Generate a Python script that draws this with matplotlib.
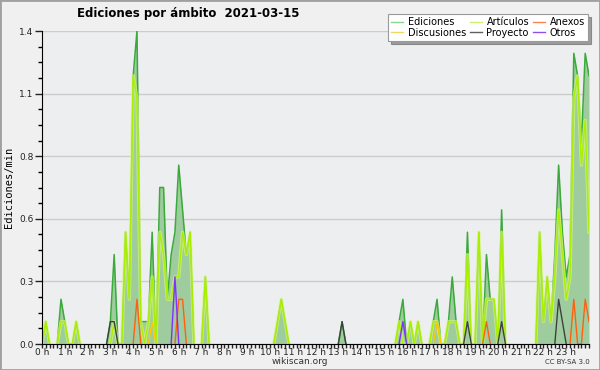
import matplotlib
matplotlib.use("Agg")
import matplotlib.pyplot as plt
from matplotlib.lines import Line2D
from matplotlib.patches import Rectangle
import numpy as np

# data: edits/min in 10-minute bins, 0 h .. 24 h (145 points) <<<
ediciones = [
    0, .1, 0, 0, 0, .2, .1, 0, 0, .1, 0, 0,
    0, 0, 0, 0, 0, 0, .1, .4, 0, 0, .5, .2,
    1.2, 1.4, .1, .1, .1, .5, 0, .7, .7, .2, .4, .5,
    .8, .6, .4, .5, 0, 0, 0, .3, 0, 0, 0, 0,
    0, 0, 0, 0, 0, 0, 0, 0, 0, 0, 0, 0,
    0, 0, .1, .2, .1, 0, 0, 0, 0, 0, 0, 0,
    0, 0, 0, 0, 0, 0, 0, .1, 0, 0, 0, 0,
    0, 0, 0, 0, 0, 0, 0, 0, 0, 0, .1, .2,
    0, .1, 0, .1, 0, 0, 0, .1, .2, 0, 0, .1,
    .3, .1, 0, 0, .5, 0, 0, .5, 0, .4, .2, .2,
    0, .6, 0, 0, 0, 0, 0, 0, 0, 0, 0, .5,
    .1, .3, .1, .4, .8, .5, .3, .4, 1.3, 1.2, .9, 1.3,
    1.2,
]
articulos = [
    0, .1, 0, 0, 0, .1, .1, 0, 0, .1, 0, 0,
    0, 0, 0, 0, 0, 0, 0, .1, 0, 0, .5, .2,
    1.2, 1.1, .1, 0, .1, .3, 0, .5, .4, .2, .2, .3,
    .3, .5, .4, .5, 0, 0, 0, .3, 0, 0, 0, 0,
    0, 0, 0, 0, 0, 0, 0, 0, 0, 0, 0, 0,
    0, 0, .1, .2, .1, 0, 0, 0, 0, 0, 0, 0,
    0, 0, 0, 0, 0, 0, 0, 0, 0, 0, 0, 0,
    0, 0, 0, 0, 0, 0, 0, 0, 0, 0, .1, 0,
    0, .1, 0, .1, 0, 0, 0, .1, .1, 0, 0, .1,
    .1, .1, 0, 0, .4, 0, 0, .5, 0, .2, .2, .2,
    0, .5, 0, 0, 0, 0, 0, 0, 0, 0, 0, .5,
    .1, .3, .1, .3, .6, .4, .2, .3, 1.1, 1.2, .8, 1.0,
    .5,
]
# sparse series: {bin index: value}
anexos = {25: .2, 36: .2, 37: .2, 117: .1, 140: .2, 143: .2, 144: .1}
discusiones = {29: .1, 104: .1}
proyecto = {18: .1, 19: .1, 79: .1, 112: .1, 121: .1, 136: .2, 137: .1}
otros = {35: .3, 95: .1}

y_ticks = [0, 0.28, 0.56, 0.84, 1.12, 1.4]
y_labels = ["0.0", "0.3", "0.6", "0.8", "1.1", "1.4"]
hour_labels = [f"{h} h" for h in range(24)]
# >>>

n = len(ediciones)
t = np.arange(n) / 6.0


def dense(d):
    v = np.zeros(n)
    for k, val in d.items():
        v[k] = val
    return v


def hide_flat(v):
    # don't draw the line where it lies flat on the baseline
    v = np.asarray(v, dtype=float)
    nz = v > 0
    keep = nz.copy()
    keep[1:] |= nz[:-1]
    keep[:-1] |= nz[1:]
    return np.where(keep, v, np.nan)


c_edi = "#3aaa3a"
c_art = "#aaee00"
c_anx = "#ff6010"
c_dis = "#ffc800"
c_pro = "#404040"
c_otr = "#8030ff"

fig = plt.figure(figsize=(6, 3.7), dpi=100, facecolor="#f0f0f0")
ax = fig.add_axes([42 / 600, 1 - 344 / 370, 547 / 600, 313 / 370])
ax.set_facecolor("#edeef0")

ax.fill_between(t, ediciones, color="#9fcc9f", lw=0, zorder=2)
ax.plot(t, hide_flat(ediciones), color=c_edi, lw=1.1, zorder=3)
ax.plot(t, hide_flat(articulos), color="#d4f77a", lw=2.4, alpha=0.7, zorder=4)
ax.plot(t, hide_flat(articulos), color=c_art, lw=1.0, zorder=4)
ax.plot(t, hide_flat(dense(anexos)), color=c_anx, lw=1.0, zorder=5)
ax.plot(t, hide_flat(dense(discusiones)), color=c_dis, lw=1.0, zorder=5)
ax.plot(t, hide_flat(dense(proyecto)), color=c_pro, lw=1.0, zorder=5)
ax.plot(t, hide_flat(dense(otros)), color=c_otr, lw=1.0, zorder=5)

ax.set_xlim(0, 24)
ax.set_ylim(0, 1.4)
ax.set_yticks(y_ticks)
ax.set_yticklabels(y_labels)
ax.set_yticks(np.arange(0, 1.4001, 0.07), minor=True)
ax.set_xticks(range(24))
ax.set_xticklabels(hour_labels)
ax.set_xticks(np.arange(0, 24.001, 1 / 6), minor=True)
ax.tick_params(axis="x", which="both", length=3, width=1, pad=0,
               labelsize=6.5, colors="#222222")
ax.tick_params(axis="y", which="major", length=5, width=1, pad=1,
               labelsize=6.5, colors="#222222")
ax.tick_params(axis="y", which="minor", length=3, width=1)
ax.grid(axis="y", color="#cccccc", lw=1, zorder=1)
for s in ("top", "right"):
    ax.spines[s].set_visible(False)
for s in ("left", "bottom"):
    ax.spines[s].set_color("black")
    ax.spines[s].set_zorder(6)

ax.set_ylabel("Ediciones/min", family="DejaVu Sans Mono", fontsize=7.5, labelpad=4)
fig.text(188 / 600, 1 - 14 / 370, "Ediciones por ámbito  2021-03-15",
         ha="center", va="center", fontsize=8.5, fontweight="bold")
fig.text(300 / 600, 1 - 362 / 370, "wikiscan.org", ha="center", va="center",
         fontsize=6.5, color="#333333")
fig.text(590 / 600, 1 - 362 / 370, "CC BY-SA 3.0", ha="right", va="center",
         fontsize=5, color="#333333")

handles = [
    Line2D([], [], color="#88d888", lw=1),
    Line2D([], [], color="#f0d860", lw=1),
    Line2D([], [], color="#ccf070", lw=1),
    Line2D([], [], color="#606060", lw=1),
    Line2D([], [], color="#ff8050", lw=1),
    Line2D([], [], color="#9050f0", lw=1),
]
labels = ["Ediciones", "Discusiones", "Artículos", "Proyecto", "Anexos", "Otros"]
leg = fig.legend(handles, labels, ncol=3, loc="upper right",
                 bbox_to_anchor=(593 / 600, 1 - 9 / 370), fontsize=7,
                 frameon=True, fancybox=False, shadow=True,
                 handlelength=1.2, handletextpad=0.5, columnspacing=0.4,
                 labelspacing=0.05, borderpad=0.35)
leg.get_frame().set_edgecolor("#999999")
leg.get_frame().set_linewidth(0.8)

fig.patches.append(Rectangle((0, 0), 1, 1, transform=fig.transFigure,
                             fill=False, edgecolor="#a0a0a0", lw=2))

plt.savefig("out.png", dpi=100, facecolor=fig.get_facecolor())
